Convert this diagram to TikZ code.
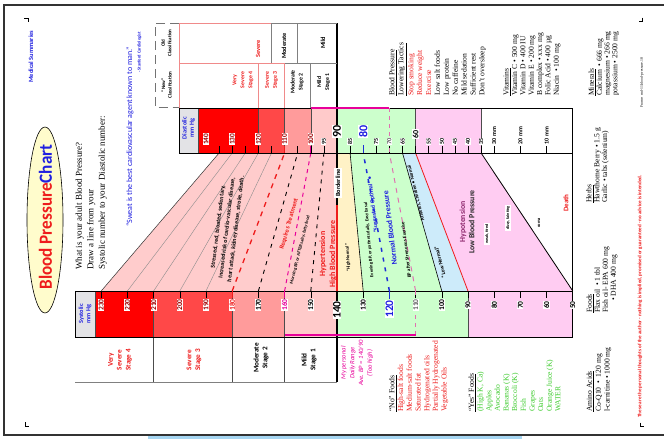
\documentclass[tikz,border=0pt]{standalone}
\usepackage{fontspec}
\setmainfont{Liberation Serif}
\newfontfamily\cf{Carlito}
\definecolor{vsev}{HTML}{FF0000}
\definecolor{sev}{HTML}{FF4848}
\definecolor{modc}{HTML}{FF9B9B}
\definecolor{mildc}{HTML}{FFCACA}
\definecolor{hypc}{HTML}{FFCCCC}
\definecolor{hinc}{HTML}{FFF2C6}
\definecolor{normc}{HTML}{CCFFCC}
\definecolor{lowc}{HTML}{CDEBFA}
\definecolor{hypoc}{HTML}{FFCCF2}
\definecolor{magc}{HTML}{E8009A}
\definecolor{tblue}{HTML}{2020E0}
\definecolor{tred}{HTML}{EE1C1C}
\definecolor{dred}{HTML}{A00000}
\definecolor{pinkl}{HTML}{F08A8A}
\definecolor{boxg}{HTML}{E3E3E6}
\definecolor{ygreen}{HTML}{3CCB2C}
\definecolor{purp}{HTML}{8E2A6E}
\definecolor{bandc}{HTML}{A6D6F2}
\definecolor{pdash}{HTML}{E070B0}
\definecolor{bdash}{HTML}{1E2ED8}
\newcommand\sx[1]{{337+(140-#1)*2.62}}
\newcommand\dx[1]{{337+(90-#1)*2.62}}
\newcommand\fs[2]{\fontsize{#1}{#2}\selectfont}
\begin{document}
\begin{tikzpicture}[x=1pt,y=-1pt,
  lab/.style={rotate=90,fill=white,inner sep=0.6pt,font=\cf\bfseries\fs{6}{6}},
  slab/.style={lab,font=\cf\bfseries\fs{7.5}{7.5}},
  dlab/.style={lab,anchor=west},
  rt/.style={rotate=90,inner sep=0pt},
  lst/.style={rotate=90,inner sep=0pt,anchor=north west,align=left},
  tk/.style={line width=0.5pt},
  grayl/.style={line width=0.4pt,black!45},
  divl/.style={line width=0.6pt,black!70},
  tbl/.style={line width=0.7pt,black!50},
  ptbl/.style={line width=0.7pt,pinkl},
  ]
\useasboundingbox (0,0) rectangle (664,439);
\fill[white] (0,0) rectangle (664,439);
% frame
\draw[line width=1.1pt,black!80] (664,5) -- (4,5) -- (4,435) -- (664,435);
\fill[bandc] (148,436.3) rectangle (522,439);
% crop marks
\draw[line width=0.5pt] (24,18.5) -- (28,18.5) -- (28,22);
\draw[line width=0.5pt] (25,422) -- (25,426) -- (28.5,426);
\draw[line width=0.5pt] (642,17.5) -- (642,21.5) -- (639,21.5);
\draw[line width=0.5pt] (640,422.5) -- (640,426.5) -- (643.5,426.5);

% coordinates
\foreach \v in {230,220,...,50} \coordinate (S\v) at (\sx{\v},291);
\foreach \v in {140,135,...,0} \coordinate (D\v) at (\dx{\v},153);

% middle regions
\fill[hypc] (S230) -- (D135) -- (D90) -- (S140) -- cycle;
\fill[hinc] (D90) -- (D85) -- (S130) -- (S140) -- cycle;
\fill[normc] (D85) -- (D65) -- (S100) -- (S130) -- cycle;
\fill[lowc] (D65) -- (D60) -- (S90) -- (S100) -- cycle;
\fill[hypoc] (D60) -- (D35) -- (S50) -- (S90) -- cycle;

% systolic strip
\fill[boxg] (75,291) rectangle (95,337);
\fill[vsev] (95,291) rectangle (\sx{210},337);
\fill[sev] (\sx{210},291) rectangle (\sx{180},337);
\fill[modc] (\sx{180},291) rectangle (\sx{160},337);
\fill[mildc] (\sx{160},291) rectangle (\sx{140},337);
\fill[normc] (\sx{140},291) rectangle (\sx{90},337);
\fill[hypoc] (\sx{90},291) rectangle (\sx{50},337);
% diastolic strip
\fill[boxg] (179,108) rectangle (198,153);
\fill[vsev] (198,108) rectangle (\dx{120},153);
\fill[sev] (\dx{120},108) rectangle (\dx{110},153);
\fill[modc] (\dx{110},108) rectangle (\dx{100},153);
\fill[mildc] (\dx{100},108) rectangle (\dx{90},153);
\fill[normc] (\dx{90},108) rectangle (\dx{60},153);
\fill[hypoc] (\dx{60},108) rectangle (\dx{35},153);

% lines in middle
\draw[line width=0.5pt,black!80] (S230) -- (D135);
\draw[grayl] (S220) -- (D130);
\draw[grayl] (S210) -- (D125);
\draw[grayl] (S200) -- (D120);
\draw[grayl] (S190) -- (D115);
\draw[tred,line width=1.3pt,dash pattern=on 5pt off 5pt] (S180) -- (D110);
\draw[black,line width=0.9pt,dash pattern=on 4pt off 5pt] (S170) -- (D105);
\draw[magc,line width=1pt,dash pattern=on 4pt off 4pt] (S160) -- (D100);
\draw[black,line width=0.9pt,dash pattern=on 4pt off 5pt] (S150) -- (D95);
\draw[line width=0.6pt] (S130) -- (D85);
\draw[bdash,line width=1.5pt,dash pattern=on 4pt off 6pt] (S120) -- (D80);
\draw[pdash,line width=1pt,dash pattern=on 5pt off 5pt] (S110) -- (D70);
\draw[line width=0.6pt] (S100) -- (D65);
\draw[tred,line width=0.8pt] (S90) -- (D60);
\draw[line width=0.8pt] (S50) -- (D35);

% strip dividers
\draw[divl] (95,291) -- (95,337);
\draw[divl] (\sx{210},291) -- (\sx{210},382);
\draw[divl] (\sx{180},291) -- (\sx{180},382);
\draw[divl] (\sx{160},291) -- (\sx{160},382);
\draw[divl] (198,108) -- (198,153);
\draw[divl] (\dx{120},108) -- (\dx{120},153);
\draw[divl] (\dx{110},108) -- (\dx{110},153);
\draw[divl] (\dx{100},108) -- (\dx{100},153);
\draw[line width=0.5pt,black!70] (\dx{60},108) -- (\dx{60},153);
\draw[line width=0.5pt,black!70] (\dx{35},108) -- (\dx{35},153);
\draw[line width=0.5pt,black!70] (\sx{90},291) -- (\sx{90},337);
% strip borders
\draw[line width=0.9pt] (75,291) rectangle (\sx{50},337);
\draw[line width=0.9pt] (179,108) rectangle (\dx{0},153);
\draw[line width=0.9pt] (\dx{0},108) -- (\sx{50},337);
\draw[tbl] (75,382) -- (337,382);

% ticks
\foreach \v in {230,220,...,60} \draw[tk] (\sx{\v},291) -- (\sx{\v},297.5);
\foreach \v in {135,130,...,35} \draw[tk] (\dx{\v},146) -- (\dx{\v},153);
\foreach \v in {30,20,10} \draw[tk] (\dx{\v},146) -- (\dx{\v},153);
\draw[tred,line width=1.2pt] (\sx{180},291) -- (\sx{180},298);
\draw[magc,line width=1.1pt] (\sx{160},291) -- (\sx{160},298);
\draw[bdash,line width=1.4pt] (\sx{120},291) -- (\sx{120},299);
\draw[pdash,line width=0.9pt,dash pattern=on 4pt off 4pt] (\sx{110},291) -- (\sx{110},337);
\draw[pdash,line width=0.9pt,dash pattern=on 4pt off 4pt] (\dx{70},108) -- (\dx{70},153);
\draw[tred,line width=1.1pt] (\dx{110},146) -- (\dx{110},153);
\draw[magc,line width=1.1pt] (\dx{100},146) -- (\dx{100},153);
\draw[bdash,line width=1.4pt] (\dx{80},145) -- (\dx{80},153);

% main divider and range bars
\draw[line width=1.4pt] (337,23) -- (337,382);
\draw[tred,line width=1.6pt] (337,205) -- (337,291);
\draw[magc,line width=2.3pt] (\dx{100},108) -- (\dx{70},108);
\draw[magc,line width=2.3pt] (\sx{160},335.3) -- (\sx{110},335.3);

% classification table (top)
\draw[black!55,line width=0.8pt,dash pattern=on 9pt off 5pt] (179,23) -- (155,23) -- (155,107.5) -- (179,107.5);
\draw[ptbl] (179,23) -- (271,23);
\draw[tbl] (271,23) -- (337,23);
\draw[ptbl] (179,63) -- (\dx{110},63);
\draw[tbl] (\dx{110},63) -- (337,63);
\draw[ptbl] (179,23) -- (179,108);
\draw[ptbl] (\dx{120},63) -- (\dx{120},108);
\draw[ptbl] (\dx{110},63) -- (\dx{110},108);
\draw[tbl] (271,23) -- (271,63);
\draw[tbl] (297,23) -- (297,63);
\draw[tbl] (\dx{100},63) -- (\dx{100},108);

\node[rt,align=center,font=\cf\bfseries\fs{5}{6.5}] (oldc) at (166.5,43) {Old\\Classification};
\node[rt,align=center,font=\cf\bfseries\fs{5}{6.5}] (newc) at (166.5,85) {\textquotedblleft New\textquotedblright\\Classification};
\node[rt,text=tred,font=\cf\bfseries\fs{6.3}{6.3}] (osev) at (258,49) {Severe};
\node[rt,font=\cf\bfseries\fs{6.3}{6.3}] (omod) at (284,46) {Moderate};
\node[rt,font=\cf\bfseries\fs{6.3}{6.3}] (omild) at (323,43) {Mild};
\node[rt,align=center,text=tred,font=\cf\bfseries\fs{5.8}{8}] (nvs) at (243,80) {Very\\Severe\\Stage 4};
\node[rt,align=center,text=tred,font=\cf\bfseries\fs{5.8}{8}] (ns3) at (271.5,80) {Severe\\Stage 3};
\node[rt,align=center,font=\cf\bfseries\fs{5.8}{8}] (nm2) at (297,82) {Moderate\\Stage 2};
\node[rt,align=center,font=\cf\bfseries\fs{5.8}{8}] (nm1) at (323.5,82) {Mild\\Stage 1};

% classification table (bottom)
\node[rt,align=center,text=tred,font=\cf\bfseries\fs{7.2}{8.8}] (bvs) at (120,360) {Very\\Severe\\Stage 4};
\node[rt,align=center,text=tred,font=\cf\bfseries\fs{7.2}{8.8}] (bs3) at (194,360) {Severe\\Stage 3};
\node[rt,align=center,font=\cf\bfseries\fs{7.2}{8.8}] (bm2) at (261,358) {Moderate\\Stage 2};
\node[rt,align=center,font=\cf\bfseries\fs{7.2}{8.8}] (bm1) at (309,360) {Mild\\Stage 1};

% strip headers
\node[rt,align=center,text=tblue,font=\cf\bfseries\fs{6.3}{7.3}] (syshd) at (85,314) {Systolic\\mm Hg};
\node[rt,align=center,text=tblue,font=\cf\bfseries\fs{6.3}{7.3}] (diahd) at (188.5,128) {Diastolic\\mm Hg};

% systolic labels
\foreach \v in {230,220,210,200,190} \node[slab,text=dred] (sl\v) at (\sx{\v},305) {\v};
\node[slab,text=tred] (sl180) at (\sx{180},305) {180};
\node[slab] (sl170) at (\sx{170},305) {170};
\node[slab,text=magc] (sl160) at (\sx{160},305) {160};
\node[slab] (sl150) at (\sx{150},305) {150};
\node[slab] (sl130) at (\sx{130},305) {130};
\node[slab,text=black!60] (sl110) at (\sx{110},305) {110};
\foreach \v in {100,90,80,70,60,50} \node[slab] (sl\v) at (\sx{\v},305) {\v};
\node[lab,font=\cf\bfseries\fs{11.5}{11.5}] (sl140) at (337,310) {140};
\node[lab,text=tblue,font=\cf\bfseries\fs{11.5}{11.5}] (sl120) at (\sx{120},309) {120};

% diastolic labels
\foreach \v in {140,130,120,110,100} \node[dlab,text=dred,font=\cf\bfseries\fs{7.3}{7.3}] (dl\v) at (\dx{\v},145.5) {\v};
\foreach \v in {95,85,75,65,55,50,45,40,35} \node[dlab,font=\cf\bfseries\fs{6}{6}] (dl\v) at (\dx{\v},145.5) {\v};
\node[dlab,font=\cf\bfseries\fs{6.3}{6.3},text=black!65] (dl70) at (\dx{70},145.5) {70};
\node[lab,font=\cf\bfseries\fs{8}{8}] (dl60) at (\dx{60},134) {60};
\node[lab,font=\cf\bfseries\fs{12}{12}] (dl90) at (337,131.5) {90};
\node[lab,text=tblue,font=\cf\bfseries\fs{12}{12}] (dl80) at (\dx{80},131.5) {80};
\foreach \v in {30,20,10} \node[dlab,font=\cf\bfseries\fs{6}{6}] (dm\v) at (\dx{\v},145) {\v\ mm};

% region texts
\node[rotate=83,align=center,inner sep=0pt,font=\cf\bfseries\fs{6}{9}] (stress) at (227,228) {Stressed, red, bloated, sedentary,\\Increased risk of cardio-vascular disease,\\heart attack, kidney disease, stroke, death.};
\node[rotate=74,inner sep=0pt,text=tred,font=\cf\bfseries\fs{6.5}{6.5}] (treat) at (289,224) {Requires Treatment};
\node[rotate=76,inner sep=0pt,font=\cf\bfseries\fs{4.5}{4.5}] (morn) at (300,250) {Morning BP, or AFTER salty, fatty food};
\node[rt,align=center,text=tred,font=\cf\bfseries\fs{8}{10}] (hyper) at (328,254) {Hypertension\\High Blood Pressure};
\node[rt,fill=white,inner sep=1.6pt,font=\cf\bfseries\fs{6.3}{6.3}] (border) at (338,183) {Borderline};
\node[rotate=93,inner sep=0pt,font=\cf\bfseries\fs{4.6}{4.6}] (hinorm) at (348,258) {\textquotedblleft High Normal\textquotedblright};
\node[rotate=95,inner sep=0pt,font=\cf\bfseries\fs{4.6}{4.6}] (even) at (369,240) {Evening BP, or patients daily, Easy basal};
\node[rotate=97,inner sep=0pt,text=tblue,font=\cf\bfseries\fs{6}{6}] (optim) at (373,205) {\textquotedblleft Suggested Optimal\textquotedblright\ \textbullet};
\node[rotate=97,inner sep=0pt,text=tblue,font=\cf\bfseries\fs{7.8}{7.8}] (normbp) at (390,228) {Normal Blood Pressure};
\node[rotate=97,inner sep=0pt,font=\cf\bfseries\fs{5}{5}] (strex) at (406,250) {BP after Strenuous Exercise};
\node[rotate=104,inner sep=0pt,font=\cf\bfseries\fs{5}{5}] (athl) at (416,193) {Athletes, Children \textbullet\ Normal};
\node[rotate=104,inner sep=0pt,font=\cf\bfseries\fs{5.5}{5.5}] (lownorm) at (440,262) {\textquotedblleft Low Normal\textquotedblright};
\node[rt,align=center,font=\cf\bfseries\fs{7.8}{9.4}] (hypo) at (467,222) {\textcolor{purp}{Hypotension}\\\textcolor{black!85}{Low Blood Pressure}};
\node[rt,fill=white,inner sep=1pt,font=\cf\bfseries\fs{4.2}{4.2}] (weak) at (487,234) {weak, tired};
\node[rt,fill=white,inner sep=1pt,font=\cf\bfseries\fs{4.2}{4.2}] (dizzy) at (508,218) {dizzy, fainting};
\node[rt,font=\cf\bfseries\fs{4.4}{4.4}] (coma) at (539,223) {coma};
\node[rt,text=tred,font=\cf\bfseries\fs{7}{7}] (death) at (566,203) {Death};

% personal range
\node[rt,align=center,text=magc,font=\cf\itshape\fs{6.6}{8.8}] (pers) at (357,363) {My personal\\Daily Range\\Ave. BP = 140/90\\(Too high)};

% left texts
\draw[line width=0.6pt,fill=yellow!20] (45,220) ellipse [x radius=18, y radius=93];
\node[rt] (title) at (45.5,217) {\resizebox{145pt}{13pt}{\cf\bfseries\textcolor{tred}{Blood Pressure}\textcolor{tblue}{Chart}}};
\node[lst,font=\fs{9}{11.5}] (quest) at (75.5,270) {What is your adult Blood Pressure?\\Draw a line from your\\Systolic number to your Diastolic number:};
\node[rt,anchor=west,text=tblue,font=\cf\fs{8}{8}] (quote) at (130,227) {\textquotedblleft Sweat is the best cardiovascular agent known to man.\textquotedblright};
\node[rt,anchor=east,text=tblue,font=\cf\bfseries\fs{4.4}{4.4}] (stanf) at (139.5,32) {- Stanford Cardiologist};
\node[rt,anchor=west,text=tblue,font=\cf\bfseries\fs{6.4}{6.4}] (medsum) at (31,83) {Medical Summaries};

% right lists
\node[lst,font=\fs{7.6}{8.9}] (tactics) at (389,96) {\underline{Blood Pressure}\\\underline{Lowering Tactics}\\\textcolor{tred}{Stop smoking}\\\textcolor{tred}{Reduce weight}\\\textcolor{tred}{Exercise}\\Low salt foods\\Low protein\\No caffeine\\Mild sedation\\Sufficient rest\\Don't oversleep};
\node[lst,font=\fs{7.6}{8.35}] (vitam) at (503.5,96) {\underline{Vitamins}\\Vitamin C \textbullet\ 500 mg\\Vitamin D \textbullet\ 400 IU\\Vitamin E \textbullet\ 200 mg\\B complex \textbullet\ xxx mg\\Folic Acid \textbullet\ 400 \textmu g\\Niacin \ \textbullet\ 100 mg};
\node[lst,font=\fs{7.6}{7.8}] (miner) at (588.5,96) {\underline{Minerals}\\Calcium \ \textbullet\ 666 mg\\magnesium \textbullet\ 266 mg\\potassium \textbullet\ 2500 mg};
\node[rt,anchor=west,font=\fs{3.8}{3.8}] (frame) at (642,108) {Frame: md-11.blood-pressure.18};
\node[lst,font=\fs{7.6}{7.8}] (herbs) at (586,203) {\underline{Herbs}\\Hawthorne Berry \textbullet\ 1.5 g\\Garlic \textbullet\ tabs (selenium)};
\node[lst,font=\fs{7.6}{8}] (foods) at (586.5,313) {\underline{Foods}\\Flax oil \ \textbullet\ 1 tbl\\Fish oil- EPA 600 mg\\\hspace*{12pt}\textbullet\ DHA 400 mg};
\node[lst,font=\fs{7.6}{8.8}] (amino) at (586.5,412) {\underline{Amino Acids}\\Co-Q10 \ \textbullet\ \ 120 mg\\l-carnitine \textbullet\ 1000 mg};
\node[lst,font=\fs{7.6}{8.7}] (nofood) at (389,412) {\underline{\textquotedblleft No\textquotedblright\ Foods}\\\textcolor{tred}{High-salt foods}\\\textcolor{tred}{Medium-salt foods}\\\textcolor{tred}{Saturated fat}\\\textcolor{tred}{Hydrogenated oils}\\\textcolor{tred}{Partially Hydrogenated}\\\textcolor{tred}{Vegetable Oils}};
\node[lst,font=\fs{7.6}{8.65}] (yesfood) at (468.5,412) {\underline{\textquotedblleft Yes\textquotedblright\ Foods}\\\textcolor{ygreen}{(High K, Ca)}\\\textcolor{ygreen}{Apples}\\\textcolor{ygreen}{Avocado}\\\textcolor{ygreen}{Bananas (K)}\\\textcolor{ygreen}{Broccoli (K)}\\\textcolor{ygreen}{Fish}\\\textcolor{ygreen}{Grapes}\\\textcolor{ygreen}{Oats}\\\textcolor{ygreen}{Orange Juice (K)}\\\textcolor{ygreen}{WATER}};
\node[rt,anchor=west,text=tred,font=\cf\bfseries\fs{5.1}{5.1}] (discl) at (640,418) {These are the personal thoughts of the author - nothing is implied, promised or guaranteed - no advice is intended.};
\end{tikzpicture}
\end{document}
